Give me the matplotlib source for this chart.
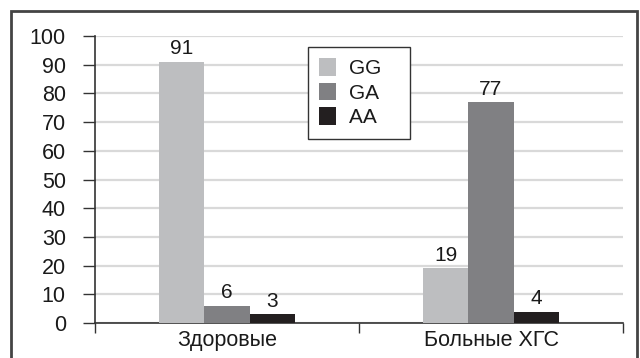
import matplotlib.pyplot as plt
from matplotlib.patches import Rectangle
import numpy as np

plt.rcParams['font.family'] = ['Liberation Sans', 'DejaVu Sans']

# -----------------------------------------
# data
# -----------------------------------------
groups = ["Здоровые", "Больные ХГС"]
genotypes = ["GG", "GA", "AA"]
gg = [91, 19]
ga = [6, 77]
aa = [3, 4]
colors = ["#bdbec0", "#808083", "#231f20"]

W, H = 640, 358
fig = plt.figure(figsize=(W / 100, H / 100), dpi=100)
ax = fig.add_axes([95 / W, 1 - 323 / H, (623 - 95) / W, (323 - 36) / H])

x = np.arange(len(groups))
width = 0.172
for i, (vals, name, c) in enumerate(zip([gg, ga, aa], genotypes, colors)):
    pos = x + (i - 1) * width
    ax.bar(pos, vals, width, color=c, label=name, zorder=3)
    for p, v in zip(pos, vals):
        ax.text(p, v + 1.2, str(v), ha="center", va="bottom", fontsize=15, color="#1a1a1a")

ax.set_xlim(-0.5, 1.5)
ax.set_ylim(0, 100)
ax.set_yticks(range(0, 101, 10))
ax.yaxis.grid(True, color="#d9d9d9", lw=1.6, zorder=0)
ax.tick_params(axis="y", labelsize=15.5, length=9, width=1, color="#333", pad=12, labelcolor="#1a1a1a")

# category boundary ticks + centered labels
ax.set_xticks([-0.5, 0.5, 1.5])
ax.set_xticklabels([])
ax.set_xticks(x, minor=True)
ax.set_xticklabels(groups, minor=True)
ax.tick_params(axis="x", which="major", length=7, width=1, color="#333")
ax.tick_params(axis="x", which="minor", length=0, labelsize=15.5, pad=5, labelcolor="#1a1a1a")

for s in ["top", "right"]:
    ax.spines[s].set_visible(False)
for s in ["left", "bottom"]:
    ax.spines[s].set_color("#333")
    ax.spines[s].set_linewidth(1.2)

leg = ax.legend(loc="upper left", bbox_to_anchor=((308 - 95) / 528, 1 - (47 - 36) / 287),
                fontsize=15, frameon=True, fancybox=False, framealpha=1,
                edgecolor="#333", handlelength=0.8, handleheight=0.9,
                handletextpad=0.6, labelspacing=0.22, borderpad=0.55, borderaxespad=0)
leg.get_frame().set_linewidth(1.0)
for t in leg.get_texts():
    t.set_color("#1a1a1a")
    t.set_text(t.get_text() + "   ")

# outer frame around the whole chart
fig.patches.append(Rectangle((11 / W, -0.1), (637 - 11) / W, 1.1 - 11 / H,
                             transform=fig.transFigure, fill=False, lw=2, ec="#444"))

fig.savefig("out.png", dpi=100)
